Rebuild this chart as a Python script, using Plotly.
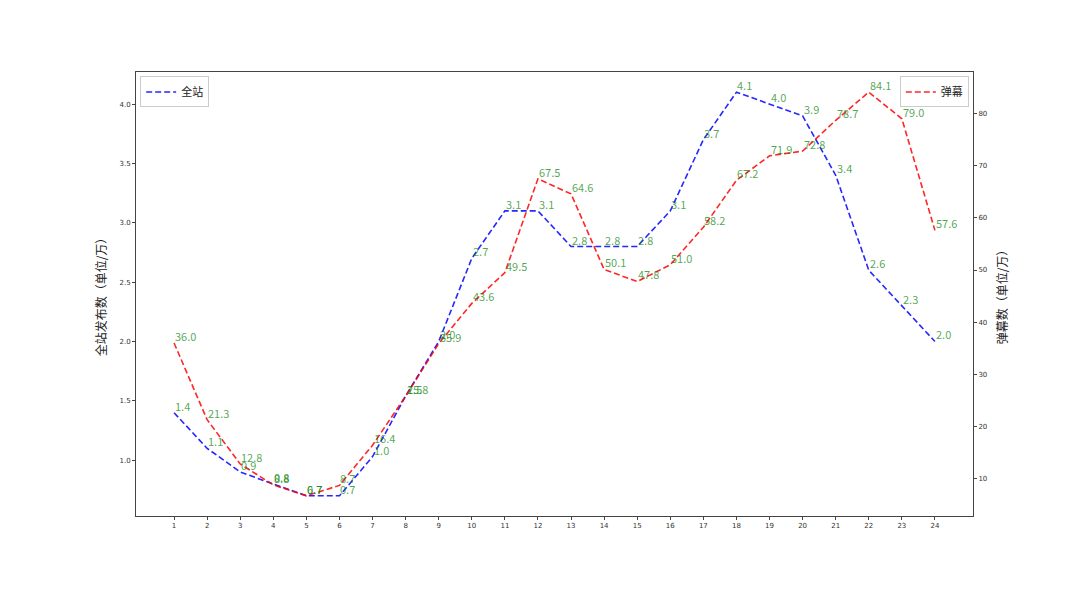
import plotly.graph_objects as go

hours = list(range(1, 25))
site_posts = [1.4, 1.1, 0.9, 0.8, 0.7, 0.7, 1.03, 1.54, 2.0, 2.7, 3.1, 3.1,
              2.8, 2.8, 2.8, 3.1, 3.7, 4.1, 4.0, 3.9, 3.4, 2.6, 2.3, 2.0]
danmaku = [36.0, 21.3, 12.8, 8.8, 6.7, 8.7, 16.4, 25.8, 35.9, 43.6, 49.5, 67.5,
           64.6, 50.1, 47.8, 51.0, 58.2, 67.2, 71.9, 72.8, 78.7, 84.1, 79.0, 57.6]
left_ticks = [1.0, 1.5, 2.0, 2.5, 3.0, 3.5, 4.0]
right_ticks = [10, 20, 30, 40, 50, 60, 70, 80]

LABEL_FONT = dict(family="Noto Sans CJK SC", size=11, color="rgba(0,128,0,0.7)")
AXIS_COLOR = "#444444"


def padded(values, frac=0.05):
    lo, hi = min(values), max(values)
    pad = (hi - lo) * frac
    return [lo - pad, hi + pad]


fig = go.Figure()
fig.add_trace(go.Scatter(
    x=hours, y=site_posts, name="全站", mode="lines",
    line=dict(color="rgba(0,0,255,0.85)", width=1.6, dash="6px,3px"),
    legend="legend",
))
fig.add_trace(go.Scatter(
    x=hours, y=danmaku, name="弹幕", mode="lines", yaxis="y2",
    line=dict(color="rgba(255,0,0,0.85)", width=1.6, dash="6px,3px"),
    legend="legend2",
))

# value labels sit with their baseline on the point, like ax.text defaults
annotations = []
for h, v in zip(hours, site_posts):
    annotations.append(dict(x=h, y=v, xref="x", yref="y", text=f"{v:.1f}",
                            showarrow=False, xanchor="left", yanchor="bottom",
                            yshift=-3, xshift=-1, font=LABEL_FONT))
for h, v in zip(hours, danmaku):
    annotations.append(dict(x=h, y=v, xref="x", yref="y2", text=f"{v:.1f}",
                            showarrow=False, xanchor="left", yanchor="bottom",
                            yshift=-3, xshift=-1, font=LABEL_FONT))

tick_font = dict(family="DejaVu Sans", size=7, color="#333333")
legend_style = dict(font=dict(family="Noto Sans CJK SC", size=11, color="#222222"),
                    bgcolor="rgba(255,255,255,0.8)", bordercolor="#cccccc",
                    borderwidth=1, yanchor="top", y=0.99, itemwidth=30,
                    tracegroupgap=0)

fig.update_layout(
    width=1080, height=589,
    margin=dict(l=128, r=115, t=64, b=81),
    plot_bgcolor="white", paper_bgcolor="white",
    showlegend=True,
    legend=dict(x=0.005, xanchor="left", **legend_style),
    legend2=dict(x=0.995, xanchor="right", **legend_style),
    xaxis=dict(range=[-0.15, 25.15], tickvals=hours, tickfont=tick_font,
               showgrid=False, zeroline=False, showline=True, linecolor=AXIS_COLOR,
               linewidth=1, mirror=True, ticks="outside", ticklen=3, tickcolor=AXIS_COLOR),
    yaxis=dict(range=padded(site_posts), tickvals=left_ticks,
               ticktext=[f"{t:.1f}" for t in left_ticks], tickfont=tick_font,
               showgrid=False, zeroline=False, showline=True, linecolor=AXIS_COLOR,
               linewidth=1, ticks="outside", ticklen=3, tickcolor=AXIS_COLOR,
               title=dict(text="全站发布数（单位/万）", standoff=10,
                          font=dict(family="Noto Sans CJK SC", size=12, color="#222222"))),
    yaxis2=dict(range=padded(danmaku), tickvals=right_ticks, tickfont=tick_font,
                overlaying="y", side="right",
                showgrid=False, zeroline=False, showline=True, linecolor=AXIS_COLOR,
                linewidth=1, ticks="outside", ticklen=3, tickcolor=AXIS_COLOR,
                title=dict(text="弹幕数（单位/万）", standoff=12,
                           font=dict(family="Noto Sans CJK SC", size=12, color="#222222"))),
    annotations=annotations,
)

fig.write_html("out.html")
